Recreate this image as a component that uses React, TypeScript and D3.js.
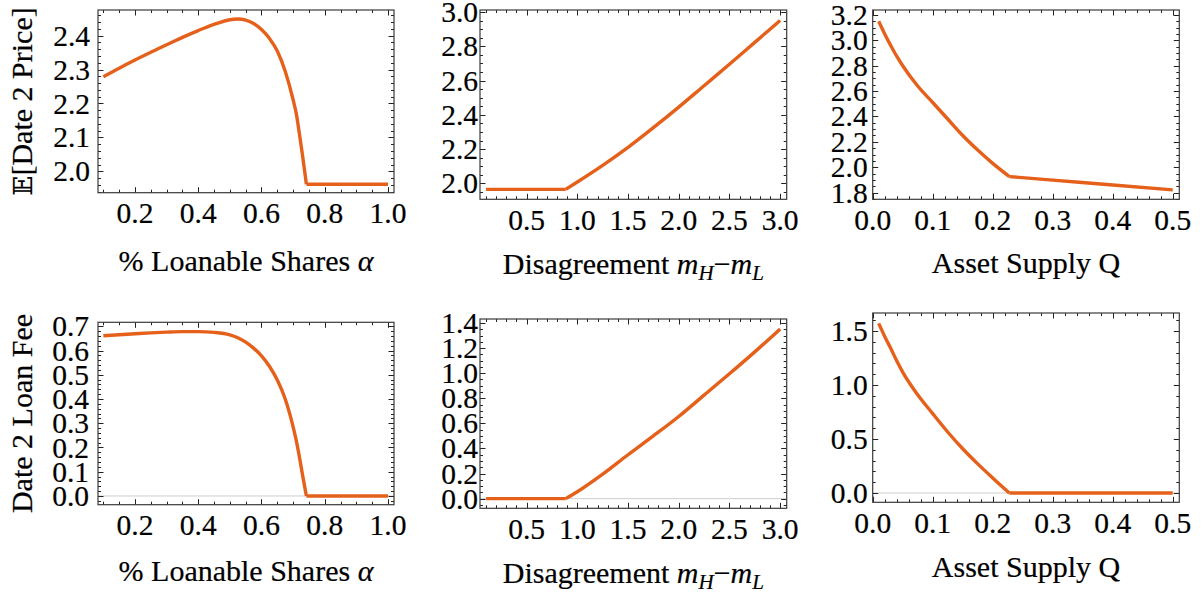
import * as d3 from 'd3'
import { useEffect, useRef } from 'react'

// x grids
const alphaGrid = [0.1, 0.15, 0.2, 0.25, 0.3, 0.35, 0.4, 0.45, 0.5, 0.525, 0.55, 0.575, 0.6, 0.625, 0.65, 0.675, 0.7, 0.71, 0.72, 0.73, 0.742, 0.8, 0.9, 1.0]
const spreadGrid = [0.1, 0.5, 0.885, 1.0, 1.25, 1.5, 1.75, 2.0, 2.25, 2.5, 2.75, 3.0]
const supplyGrid = [0.01, 0.02, 0.03, 0.04, 0.05, 0.075, 0.1, 0.125, 0.15, 0.175, 0.2, 0.2278, 0.3, 0.4, 0.5]

// E[Date 2 Price]
const priceByAlpha = [2.279, 2.304, 2.328, 2.351, 2.373, 2.395, 2.415, 2.433, 2.447, 2.449, 2.446, 2.436, 2.418, 2.392, 2.355, 2.295, 2.211, 2.17, 2.11, 2.045, 1.962, 1.962, 1.962, 1.962]
const priceBySpread = [1.965, 1.965, 1.965, 2.008, 2.105, 2.21, 2.325, 2.445, 2.57, 2.695, 2.823, 2.951]
const priceBySupply = [3.15, 3.05, 2.96, 2.875, 2.8, 2.64, 2.51, 2.38, 2.25, 2.135, 2.03, 1.926, 1.898, 1.86, 1.821]

// Date 2 loan fee
const feeByAlpha = [0.661, 0.665, 0.669, 0.673, 0.676, 0.678, 0.678, 0.675, 0.665, 0.653, 0.635, 0.61, 0.578, 0.535, 0.478, 0.4, 0.285, 0.228, 0.16, 0.085, 0, 0, 0, 0]
const feeBySpread = [0, 0, 0, 0.055, 0.195, 0.35, 0.5, 0.655, 0.825, 0.995, 1.17, 1.352]
const feeBySupply = [1.571, 1.45, 1.34, 1.225, 1.12, 0.91, 0.735, 0.565, 0.41, 0.27, 0.14, 0, 0, 0, 0]

// tick labels
const alphaTicks = [0.2, 0.4, 0.6, 0.8, 1.0]
const spreadTicks = [0.5, 1.0, 1.5, 2.0, 2.5, 3.0]
const supplyTicks = [0.0, 0.1, 0.2, 0.3, 0.4, 0.5]
const priceAlphaTicks = [2.0, 2.1, 2.2, 2.3, 2.4]
const priceSpreadTicks = [2.0, 2.2, 2.4, 2.6, 2.8, 3.0]
const priceSupplyTicks = [1.8, 2.0, 2.2, 2.4, 2.6, 2.8, 3.0, 3.2]
const feeAlphaTicks = [0.0, 0.1, 0.2, 0.3, 0.4, 0.5, 0.6, 0.7]
const feeSpreadTicks = [0.0, 0.2, 0.4, 0.6, 0.8, 1.0, 1.2, 1.4]
const feeSupplyTicks = [0.0, 0.5, 1.0, 1.5]

const ORANGE = '#e5601a'
const FONT = 'Liberation Serif, Tinos, Times New Roman, DejaVu Serif, serif'

const panels = [
	{ box: [98, 10, 394, 192.7], xs: alphaGrid, ys: priceByAlpha, kink: 20, xDom: [0.083, 1.019], yDom: [1.937, 2.4756], xTicks: alphaTicks, xMinor: 0.05, yTicks: priceAlphaTicks, yMinor: 0.02, gap: 8, titleY: 271, xTitle: 'alpha', yTitle: 'price', zero: false },
	{ box: [480, 10, 786.7, 199.3], xs: spreadGrid, ys: priceBySpread, kink: 2, xDom: [0.04, 3.065], yDom: [1.907, 3.012], xTicks: spreadTicks, xMinor: 0.1, yTicks: priceSpreadTicks, yMinor: 0.05, gap: 2, titleY: 274, xTitle: 'spread', yTitle: null, zero: false },
	{ box: [872.7, 10, 1179.3, 199.3], xs: supplyGrid, ys: priceBySupply, kink: 11, xDom: [0, 0.511], yDom: [1.747, 3.239], xTicks: supplyTicks, xMinor: 0.02, yTicks: priceSupplyTicks, yMinor: 0.05, gap: 5, titleY: 273, xTitle: 'supply', yTitle: null, zero: false },
	{ box: [98, 322.3, 394, 504.7], xs: alphaGrid, ys: feeByAlpha, kink: 20, xDom: [0.083, 1.019], yDom: [-0.036, 0.7165], xTicks: alphaTicks, xMinor: 0.05, yTicks: feeAlphaTicks, yMinor: 0.02, gap: 9, titleY: 581, xTitle: 'alpha', yTitle: 'fee', zero: true },
	{ box: [480, 319, 786.7, 508.3], xs: spreadGrid, ys: feeBySpread, kink: 2, xDom: [0.04, 3.065], yDom: [-0.077, 1.432], xTicks: spreadTicks, xMinor: 0.1, yTicks: feeSpreadTicks, yMinor: 0.05, gap: 2, titleY: 583, xTitle: 'spread', yTitle: null, zero: true },
	{ box: [872.7, 313, 1179.3, 502.3], xs: supplyGrid, ys: feeBySupply, kink: 11, xDom: [0, 0.511], yDom: [-0.086, 1.667], xTicks: supplyTicks, xMinor: 0.02, yTicks: feeSupplyTicks, yMinor: 0.1, gap: 5, titleY: 577, xTitle: 'supply', yTitle: null, zero: true },
]

function minorTicks(dom: number[], step: number) {
	const out: number[] = []
	const start = Math.ceil(dom[0] / step - 1e-6)
	const end = Math.floor(dom[1] / step + 1e-6)
	for (let i = start; i <= end; i++) out.push(+(i * step).toFixed(4))
	return out
}

export default function App() {
	const svgRef = useRef<SVGSVGElement>(null)

	useEffect(() => {
		const svg = d3.select(svgRef.current)
		svg.selectAll('*').remove()

		panels.forEach((p) => {
			const [l, t, r, b] = p.box
			const x = d3.scaleLinear().domain(p.xDom).range([l, r])
			const y = d3.scaleLinear().domain(p.yDom).range([b, t])
			const g = svg.append('g')

			// zero line
			if (p.zero) {
				g.append('line')
					.attr('x1', l).attr('x2', r)
					.attr('y1', y(0)).attr('y2', y(0))
					.attr('stroke', '#cfcfcf').attr('stroke-width', 1)
			}

			// curve: smooth piece + piece after the kink
			const pts = p.xs.map((v, i) => [v, p.ys[i]] as [number, number])
			const line = d3.line<[number, number]>()
				.x((d) => x(d[0]))
				.y((d) => y(d[1]))
				.curve(d3.curveMonotoneX)
			;[pts.slice(0, p.kink + 1), pts.slice(p.kink)].forEach((seg) => {
				g.append('path')
					.datum(seg)
					.attr('fill', 'none')
					.attr('stroke', ORANGE)
					.attr('stroke-width', 3.4)
					.attr('stroke-linejoin', 'round')
					.attr('d', line)
			})

			// frame ticks (inside, mirrored)
			const tk = g.append('g').attr('stroke', '#222').attr('stroke-width', 1)
			const majX = p.xTicks.map((v) => +v.toFixed(4))
			const majY = p.yTicks.map((v) => +v.toFixed(4))
			minorTicks(p.xDom, p.xMinor).forEach((v) => {
				const len = majX.includes(v) ? 5.5 : 3
				const px = Math.round(x(v)) + 0.5
				tk.append('line').attr('x1', px).attr('x2', px).attr('y1', b).attr('y2', b - len)
				tk.append('line').attr('x1', px).attr('x2', px).attr('y1', t).attr('y2', t + len)
			})
			minorTicks(p.yDom, p.yMinor).forEach((v) => {
				const len = majY.includes(v) ? 5.5 : 3
				const py = Math.round(y(v)) + 0.5
				tk.append('line').attr('y1', py).attr('y2', py).attr('x1', l).attr('x2', l + len)
				tk.append('line').attr('y1', py).attr('y2', py).attr('x1', r).attr('x2', r - len)
			})

			g.append('rect')
				.attr('x', l).attr('y', t)
				.attr('width', r - l).attr('height', b - t)
				.attr('fill', 'none')
				.attr('stroke', '#3a3a3a').attr('stroke-width', 1.2)

			// tick labels
			p.xTicks.forEach((v) => {
				g.append('text')
					.attr('x', x(v)).attr('y', b + 30.5)
					.attr('text-anchor', 'middle')
					.style('font-family', FONT).attr('font-size', 29.5)
					.attr('stroke', '#000').attr('stroke-width', 0.2)
					.text(v.toFixed(1))
			})
			p.yTicks.forEach((v) => {
				g.append('text')
					.attr('x', l - p.gap).attr('y', y(v))
					.attr('dy', '0.34em')
					.attr('text-anchor', 'end')
					.style('font-family', FONT).attr('font-size', 29.5)
					.attr('stroke', '#000').attr('stroke-width', 0.2)
					.text(v.toFixed(1))
			})

			// x title
			const cx = (l + r) / 2
			const title = g.append('text')
				.attr('x', cx).attr('y', p.titleY)
				.attr('text-anchor', 'middle')
				.style('font-family', FONT).attr('font-size', 30)
				.attr('stroke', '#000').attr('stroke-width', 0.2)
			if (p.xTitle === 'alpha') {
				title.append('tspan').text('% Loanable Shares ')
				title.append('tspan').attr('font-style', 'italic').text('α')
			} else if (p.xTitle === 'spread') {
				title.append('tspan').text('Disagreement ')
				title.append('tspan').attr('font-style', 'italic').text('m')
				title.append('tspan').attr('font-style', 'italic').attr('font-size', 21).attr('dy', 6).text('H')
				title.append('tspan').attr('dy', -6).text('−')
				title.append('tspan').attr('font-style', 'italic').text('m')
				title.append('tspan').attr('font-style', 'italic').attr('font-size', 21).attr('dy', 6).text('L')
			} else {
				title.text('Asset Supply Q')
			}

			// y title
			if (p.yTitle) {
				const cy = (t + b) / 2
				const yt = g.append('text')
					.attr('transform', `translate(32,${cy}) rotate(-90)`)
					.attr('text-anchor', 'middle')
					.style('font-family', FONT).attr('font-size', 30)
					.attr('stroke', '#000').attr('stroke-width', 0.2)
				if (p.yTitle === 'price') {
					yt.append('tspan').style('font-family', 'DejaVu Serif, DejaVu Sans, serif').attr('font-size', 26).text('𝔼')
					yt.append('tspan').text('[Date 2 Price]')
				} else {
					yt.text('Date 2 Loan Fee')
				}
			}
		})
	}, [])

	return (
		<svg
			ref={svgRef}
			width={1202}
			height={594}
			style={{ position: 'absolute', left: 0, top: 0, background: '#fff' }}
		/>
	)
}
